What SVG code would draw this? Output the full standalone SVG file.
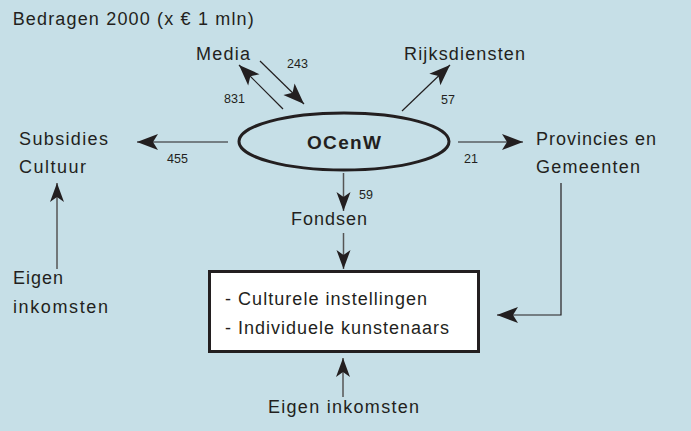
<svg xmlns="http://www.w3.org/2000/svg" width="691" height="431" viewBox="0 0 691 431">
<defs>
<style>
.t{font-family:"Liberation Sans",Arial,sans-serif;font-size:18px;fill:#231f20}
.n{font-family:"Liberation Sans",Arial,sans-serif;font-size:12.5px;fill:#231f20}
.b{font-family:"Liberation Sans",Arial,sans-serif;font-size:19px;font-weight:bold;fill:#231f20}
.c{fill:none;stroke:#231f20;stroke-width:1.2}
.g{fill:none;stroke:#555;stroke-width:1.5}
</style>
<marker id="ah" viewBox="-22 -9 23 18" refX="0" refY="0" markerWidth="23" markerHeight="18" markerUnits="userSpaceOnUse" orient="auto">
<path d="M0,0 L-21,-8 L-16,0 L-21,8 Z" fill="#231f20"/>
</marker>
<marker id="as" viewBox="-20 -8 21 16" refX="0" refY="0" markerWidth="21" markerHeight="16" markerUnits="userSpaceOnUse" orient="auto">
<path d="M0,0 L-19,-7 L-14,0 L-19,7 Z" fill="#231f20"/>
</marker>
</defs>
<rect width="691" height="431" fill="#c6dfe7"/>
<text class="t" x="12.7" y="25" textLength="241" lengthAdjust="spacing">Bedragen 2000 (x € 1 mln)</text>
<g id="connectors">
<line class="c" x1="260" y1="61" x2="304" y2="104" marker-end="url(#ah)"/>
<line class="c" x1="283" y1="109" x2="239" y2="65" marker-end="url(#ah)"/>
<line class="c" x1="402" y1="111" x2="450" y2="65" marker-end="url(#ah)"/>
<line class="c" x1="228" y1="142" x2="137" y2="142" marker-end="url(#ah)"/>
<line class="c" x1="458" y1="142" x2="523" y2="142" marker-end="url(#ah)"/>
<line class="g" x1="343.5" y1="173" x2="343.5" y2="211" marker-end="url(#as)"/>
<line class="g" x1="343.5" y1="233" x2="343.5" y2="269" marker-end="url(#as)"/>
<line class="g" x1="57" y1="269" x2="57" y2="183" marker-end="url(#as)"/>
<line class="g" x1="343" y1="397" x2="343" y2="358" marker-end="url(#as)"/>
<polyline class="c" points="561,183 561,315 497,315" marker-end="url(#ah)"/>
<text class="n" x="287" y="68">243</text>
<text class="n" x="224" y="103">831</text>
<text class="n" x="441" y="104">57</text>
<text class="n" x="167" y="163">455</text>
<text class="n" x="464" y="163">21</text>
<text class="n" x="359" y="199">59</text>
</g>
<g id="ocenw">
<ellipse cx="344" cy="141.5" rx="105" ry="28.5" fill="none" stroke="#231f20" stroke-width="3"/>
<text class="b" x="307" y="149" textLength="74" lengthAdjust="spacing">OCenW</text>
</g>
<g id="media"><text class="t" x="196" y="60" textLength="54" lengthAdjust="spacing">Media</text></g>
<g id="rijksdiensten"><text class="t" x="404" y="60" textLength="121" lengthAdjust="spacing">Rijksdiensten</text></g>
<g id="subsidies">
<text class="t" x="19" y="145" textLength="89" lengthAdjust="spacing">Subsidies</text>
<text class="t" x="19" y="173" textLength="67" lengthAdjust="spacing">Cultuur</text>
</g>
<g id="provincies">
<text class="t" x="536" y="145" textLength="120" lengthAdjust="spacing">Provincies en</text>
<text class="t" x="536" y="173" textLength="104" lengthAdjust="spacing">Gemeenten</text>
</g>
<g id="fondsen"><text class="t" x="291" y="225" textLength="76" lengthAdjust="spacing">Fondsen</text></g>
<g id="eigen-left">
<text class="t" x="13" y="284" textLength="50" lengthAdjust="spacing">Eigen</text>
<text class="t" x="13" y="313" textLength="95" lengthAdjust="spacing">inkomsten</text>
</g>
<g id="instellingen">
<rect x="209.5" y="271.5" width="269" height="80" fill="#fff" stroke="#231f20" stroke-width="3"/>
<text class="t" x="225" y="305" textLength="202" lengthAdjust="spacing">- Culturele instellingen</text>
<text class="t" x="225" y="334" textLength="224" lengthAdjust="spacing">- Individuele kunstenaars</text>
</g>
<g id="eigen-bottom"><text class="t" x="268" y="413" textLength="151" lengthAdjust="spacing">Eigen inkomsten</text></g>
</svg>
